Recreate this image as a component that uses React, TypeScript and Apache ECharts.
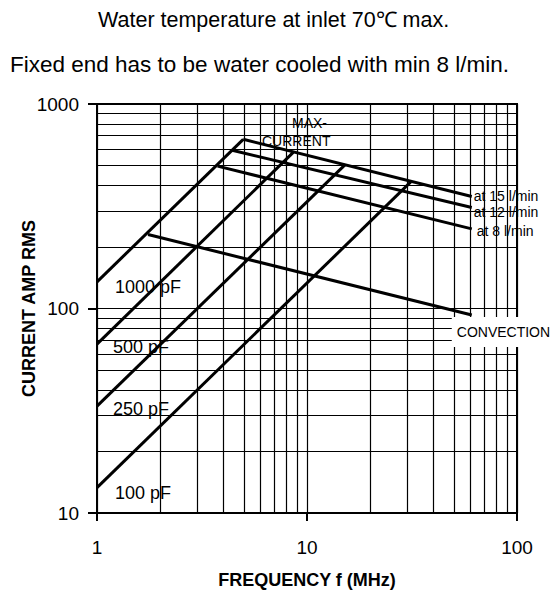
import { useEffect, useRef } from "react";
import * as echarts from "echarts";

const FONT = '"Liberation Sans", Arial, sans-serif';

// Axis ticks and grid values
const xTicks = [1, 10, 100];
const yTicks = [10, 100, 1000];
const xMinorGrid = [2, 3, 4, 5, 6, 7, 8, 9, 20, 30, 40, 50, 60, 70, 80, 90];
const yMinorGrid = [20, 30, 40, 50, 60, 70, 80, 90, 200, 300, 400, 500, 600, 700, 800, 900];

// Capacitance lines [frequency MHz, current A]
const cap1000 = [[1, 135], [4.97, 672]];
const cap500 = [[1, 67], [8.6, 580]];
const cap250 = [[1, 33.3], [15.2, 505]];
const cap100 = [[1, 13.3], [31.2, 416]];

// Max current lines
const flow15 = [[4.97, 672], [60.9, 353]];
const flow12 = [[4.4, 594], [60.9, 312]];
const flow8 = [[3.75, 497], [60.9, 245]];
const convection = [[1.75, 230], [60.9, 93]];

const capLabels = ["1000 pF", "500 pF", "250 pF", "100 pF"];
const flowLabels = ["at 15 l/min", "at 12 l/min", "at 8 l/min"];

export default function App() {
  const ref = useRef<HTMLDivElement>(null);

  useEffect(() => {
    document.body.style.margin = "0";
    if (!ref.current) return;
    const chart = echarts.init(ref.current, undefined, { renderer: "svg" });

    const lineBase = (data: number[][], z = 3) => ({
      type: "line",
      data,
      symbol: "none",
      silent: true,
      z,
      lineStyle: { color: "#000", width: 3 },
    });

    const fmt = (v: number) => String(Math.round(v));

    const option: any = {
      animation: false,
      backgroundColor: "#fff",
      textStyle: { fontFamily: FONT, color: "#000" },
      title: [
        {
          text: "Water temperature at inlet 70℃ max.",
          left: 98,
          top: 9,
          padding: 0,
          textStyle: { fontSize: 21.5, fontWeight: "normal", color: "#000", fontFamily: FONT },
        },
        {
          text: "Fixed end has to be water cooled with min 8 l/min.",
          left: 10,
          top: 53,
          padding: 0,
          textStyle: { fontSize: 22.5, fontWeight: "normal", color: "#000", fontFamily: FONT },
        },
      ],
      grid: {
        left: 97,
        top: 104,
        width: 420,
        height: 413,
        show: true,
        borderColor: "#000",
        borderWidth: 2,
        backgroundColor: "transparent",
      },
      xAxis: {
        type: "log",
        logBase: 10,
        min: xTicks[0],
        max: xTicks[xTicks.length - 1],
        name: "FREQUENCY f (MHz)",
        nameLocation: "middle",
        nameGap: 58,
        nameMoveOverlap: false,
        nameTextStyle: { fontSize: 18, fontWeight: "bold", color: "#000", fontFamily: FONT },
        axisLine: { show: true, lineStyle: { color: "#000", width: 2 } },
        axisTick: { show: true, inside: false, length: 8, lineStyle: { color: "#000", width: 2 } },
        axisLabel: { fontSize: 19, margin: 25, color: "#000", fontFamily: FONT, formatter: fmt },
        splitLine: { show: true, lineStyle: { color: "#000", width: 1.2 } },
        minorTick: { show: false },
      },
      yAxis: {
        type: "log",
        logBase: 10,
        min: yTicks[0],
        max: yTicks[yTicks.length - 1],
        name: "CURRENT AMP RMS",
        nameLocation: "middle",
        nameGap: 59,
        nameMoveOverlap: false,
        nameTextStyle: { fontSize: 18, fontWeight: "bold", color: "#000", fontFamily: FONT },
        axisLine: { show: true, lineStyle: { color: "#000", width: 2 } },
        axisTick: { show: true, inside: false, length: 9, lineStyle: { color: "#000", width: 2 } },
        axisLabel: { fontSize: 19, margin: 18, color: "#000", fontFamily: FONT, formatter: fmt },
        splitLine: { show: true, lineStyle: { color: "#000", width: 1.2 } },
        minorTick: { show: false },
      },
      series: [
        {
          type: "line",
          data: [],
          silent: true,
          z: 1,
          markLine: {
            silent: true,
            z: 1,
            animation: false,
            symbol: ["none", "none"],
            label: { show: false },
            emphasis: { disabled: true },
            lineStyle: { color: "#000", width: 1.2, type: "solid" },
            data: [
              ...xMinorGrid.map((v) => ({ xAxis: v })),
              ...yMinorGrid.map((v) => ({ yAxis: v })),
            ],
          },
        },
        lineBase(cap1000),
        lineBase(cap500),
        lineBase(cap250),
        lineBase(cap100),
        {
          ...lineBase(flow15),
          endLabel: { show: true, formatter: flowLabels[0], distance: 2, offset: [0, 0], fontSize: 14, lineHeight: 14, color: "#000", fontFamily: FONT },
        },
        {
          ...lineBase(flow12),
          endLabel: { show: true, formatter: flowLabels[1], distance: 2, offset: [0, 5], fontSize: 14, lineHeight: 14, color: "#000", fontFamily: FONT },
        },
        {
          ...lineBase(flow8),
          endLabel: { show: true, formatter: flowLabels[2], distance: 2, offset: [3, 2], fontSize: 14, lineHeight: 14, color: "#000", fontFamily: FONT },
        },
        {
          ...lineBase(convection),
          z: 4,
          endLabel: {
            show: true,
            formatter: "CONVECTION",
            distance: 0,
            offset: [-20, 17],
            fontSize: 14,
            color: "#000",
            fontFamily: FONT,
            backgroundColor: "#fff",
            padding: [8, 6, 8, 5],
          },
        },
      ],
      graphic: [
        { type: "text", x: 115, y: 287, z: 10, style: { text: capLabels[0], fontSize: 18, fontFamily: FONT, fill: "#000", verticalAlign: "middle", align: "left" } },
        { type: "text", x: 113, y: 347, z: 10, style: { text: capLabels[1], fontSize: 18, fontFamily: FONT, fill: "#000", verticalAlign: "middle", align: "left" } },
        { type: "text", x: 113, y: 409, z: 10, style: { text: capLabels[2], fontSize: 18, fontFamily: FONT, fill: "#000", verticalAlign: "middle", align: "left" } },
        { type: "text", x: 115, y: 493, z: 10, style: { text: capLabels[3], fontSize: 18, fontFamily: FONT, fill: "#000", verticalAlign: "middle", align: "left" } },
        { type: "text", x: 292, y: 123, z: 10, style: { text: "MAX-", fontSize: 14, fontFamily: FONT, fill: "#000", verticalAlign: "middle", align: "left" } },
        { type: "text", x: 262, y: 141, z: 10, style: { text: "CURRENT", fontSize: 14, fontFamily: FONT, fill: "#000", verticalAlign: "middle", align: "left" } },
      ],
    };

    chart.setOption(option);
    return () => chart.dispose();
  }, []);

  return <div ref={ref} style={{ width: 552, height: 594 }} />;
}
